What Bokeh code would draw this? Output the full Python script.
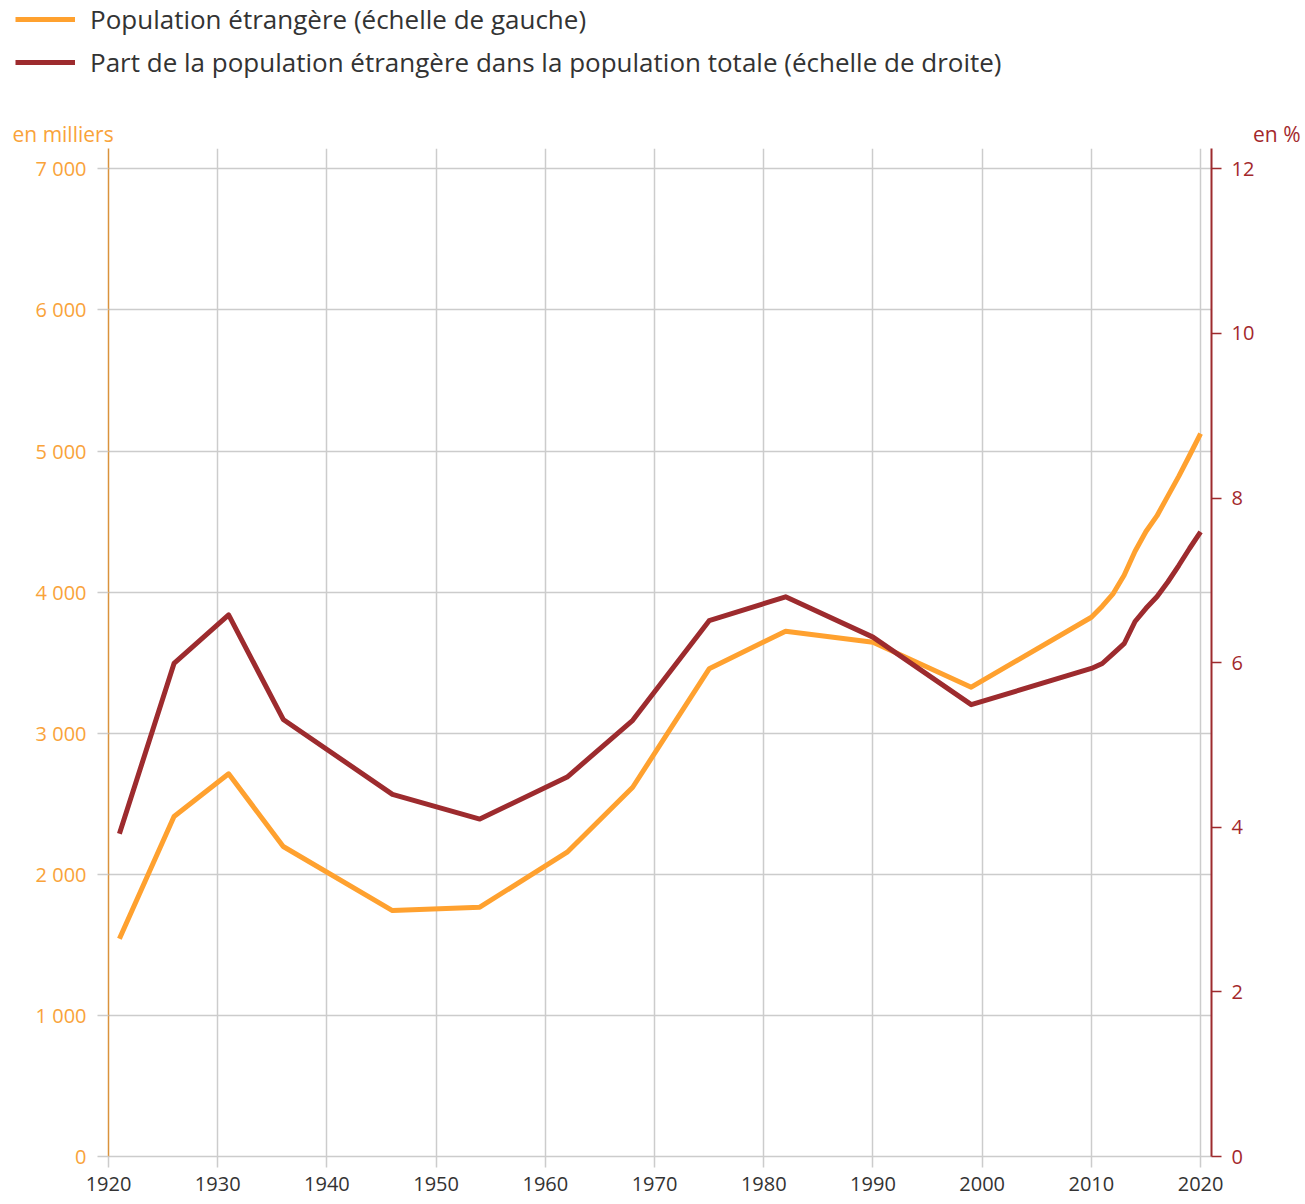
from bokeh.plotting import figure
from bokeh.layouts import column
from bokeh.models import Range1d, LinearAxis, FixedTicker, Legend, LegendItem, Label
from bokeh.embed import file_html
from bokeh.resources import INLINE

# ---- data ----
years = [1921, 1926, 1931, 1936, 1946, 1954, 1962, 1968, 1975, 1982, 1990, 1999,
         2010, 2011, 2012, 2013, 2014, 2015, 2016, 2017, 2018, 2019, 2020]
pop_thousands = [1543, 2410, 2712, 2197, 1743, 1767, 2157, 2617, 3456, 3723, 3645, 3326,
                 3822, 3900, 3990, 4120, 4290, 4430, 4540, 4680, 4820, 4970, 5124]
share_pct = [3.92, 5.99, 6.58, 5.31, 4.40, 4.10, 4.61, 5.30, 6.51, 6.80, 6.31, 5.49,
             5.93, 5.99, 6.11, 6.23, 6.50, 6.66, 6.80, 6.98, 7.18, 7.39, 7.59]

left_ticks = [0, 1000, 2000, 3000, 4000, 5000, 6000, 7000]
left_tick_labels = ["0", "1 000", "2 000", "3 000", "4 000", "5 000", "6 000", "7 000"]
right_ticks = [0, 2, 4, 6, 8, 10, 12]
x_ticks = [1920, 1930, 1940, 1950, 1960, 1970, 1980, 1990, 2000, 2010, 2020]

legend_labels = ["Population étrangère (échelle de gauche)",
                 "Part de la population étrangère dans la population totale (échelle de droite)"]
left_unit = "en milliers"
right_unit = "en %"

FONT = "Open Sans"
ORANGE = "#ffa12f"
RED = "#9d2b2e"
AXIS_ORANGE = "#d9923c"
TICK_ORANGE = "#f9a33a"
UNIT_RED = "#a3282c"
GRID = "#cccccc"
TEXT = "#333333"

W = 1305
TOP_H = 148
MAIN_H = 1204 - TOP_H

Y_MAX = 7144
PCT_MAX = Y_MAX * 12 / 7000

# ---------------- header: legend + unit labels ----------------
top = figure(width=W, height=TOP_H, x_range=Range1d(0, W), y_range=Range1d(TOP_H, 0),
             x_axis_type=None, y_axis_type=None, output_backend="svg",
             toolbar_location=None, min_border=0,
             min_border_left=0, min_border_right=0, min_border_top=0, min_border_bottom=0)
top.frame_align = False
top.outline_line_color = None
top.xgrid.visible = False
top.ygrid.visible = False
top.background_fill_color = "white"
top.border_fill_color = "white"

nan = float("nan")
leg_pop = top.line(x=[nan], y=[nan], line_color=ORANGE, line_width=5)
leg_share = top.line(x=[nan], y=[nan], line_color=RED, line_width=5)

legend = Legend(items=[LegendItem(label=legend_labels[0], renderers=[leg_pop]),
                       LegendItem(label=legend_labels[1], renderers=[leg_share])],
                location=(15, 68))
legend.border_line_color = None
legend.background_fill_alpha = 0
legend.label_text_font = FONT
legend.label_text_font_size = "26px"
legend.label_text_color = TEXT
legend.glyph_width = 60
legend.glyph_height = 30
legend.label_height = 30
legend.spacing = 7
legend.padding = 0
legend.margin = 0
legend.label_standoff = 15
top.add_layout(legend)

top.add_layout(Label(x=12, y=133, text=left_unit, text_font=FONT, text_font_size="21px",
                     text_color=TICK_ORANGE, text_baseline="middle", text_align="left"))
top.add_layout(Label(x=1300, y=133, text=right_unit, text_font=FONT, text_font_size="21px",
                     text_color=UNIT_RED, text_baseline="middle", text_align="right"))

# ---------------- main chart ----------------
p = figure(width=W, height=MAIN_H,
           x_range=Range1d(1920, 2021), y_range=Range1d(0, Y_MAX),
           output_backend="svg", toolbar_location=None,
           min_border_left=108, min_border_right=94,
           min_border_top=0, min_border_bottom=48)
p.frame_align = False
p.extra_y_ranges = {"pct": Range1d(0, PCT_MAX)}
p.outline_line_color = None
p.background_fill_color = "white"
p.border_fill_color = "white"

xa = p.xaxis[0]
xa.ticker = FixedTicker(ticks=x_ticks)
xa.major_tick_out = 11
xa.major_tick_in = 0
xa.minor_tick_line_color = None
xa.major_tick_line_color = GRID
xa.major_tick_line_width = 1.5
xa.axis_line_color = GRID
xa.axis_line_width = 1.5
xa.major_label_text_font = FONT
xa.major_label_text_font_size = "20px"
xa.major_label_text_color = TEXT
xa.major_label_standoff = 9

ya = p.yaxis[0]
ya.ticker = FixedTicker(ticks=left_ticks)
ya.major_label_overrides = dict(zip(left_ticks, left_tick_labels))
ya.major_tick_out = 11
ya.major_tick_in = 0
ya.minor_tick_line_color = None
ya.major_tick_line_color = GRID
ya.major_tick_line_width = 1.5
ya.axis_line_color = AXIS_ORANGE
ya.axis_line_width = 1.5
ya.major_label_text_font = FONT
ya.major_label_text_font_size = "20px"
ya.major_label_text_color = TICK_ORANGE
ya.major_label_standoff = 11

ra = LinearAxis(y_range_name="pct", ticker=FixedTicker(ticks=right_ticks))
ra.major_tick_out = 10
ra.major_tick_in = 0
ra.minor_tick_line_color = None
ra.major_tick_line_color = RED
ra.major_tick_line_width = 1.5
ra.axis_line_color = RED
ra.axis_line_width = 2
ra.major_label_text_font = FONT
ra.major_label_text_font_size = "20px"
ra.major_label_text_color = UNIT_RED
ra.major_label_standoff = 10
p.add_layout(ra, "right")

p.xgrid.ticker = FixedTicker(ticks=x_ticks)
p.ygrid.ticker = FixedTicker(ticks=left_ticks)
for g in (p.xgrid[0], p.ygrid[0]):
    g.grid_line_color = GRID
    g.grid_line_width = 1.5

p.line(years, pop_thousands, line_color=ORANGE, line_width=5, line_join="round")
p.line(years, share_pct, y_range_name="pct", line_color=RED, line_width=5, line_join="round")

layout = column(top, p, spacing=0)
open("out.html", "w").write(file_html(layout, INLINE))
